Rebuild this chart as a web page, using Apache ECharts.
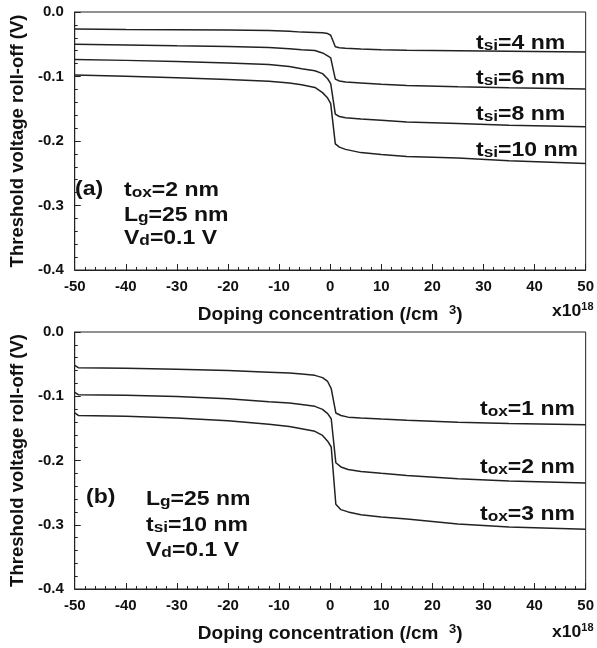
<!DOCTYPE html>
<html>
<head>
<meta charset="utf-8">
<script src="https://cdn.jsdelivr.net/npm/echarts@6/dist/echarts.min.js"></script>
<style>
  html, body { margin: 0; padding: 0; background: #fff; }
  #chart { width: 597px; height: 648px; }
</style>
</head>
<body>
<div id="chart"></div>
<script>
// panel (a): Vth roll-off vs doping for different silicon thickness
var dopingA = [-50, -40, -30, -20, -12, -8, -5.6, -3, -1.5, -0.5, 0.1, 1.0, 1.8, 3, 6, 10, 15, 25, 35, 50]
var tsi4 = [-0.0264, -0.027, -0.0275, -0.028, -0.0288, -0.030, -0.0312, -0.0316, -0.032, -0.0335, -0.036, -0.0538, -0.0555, -0.0563, -0.0575, -0.0585, -0.0592, -0.060, -0.061, -0.062]
var tsi6 = [-0.050, -0.051, -0.0523, -0.0535, -0.055, -0.0568, -0.0585, -0.0598, -0.0635, -0.068, -0.071, -0.104, -0.107, -0.1085, -0.110, -0.112, -0.114, -0.116, -0.1175, -0.1195]
var tsi8 = [-0.0737, -0.075, -0.0766, -0.079, -0.0815, -0.0845, -0.088, -0.091, -0.0955, -0.1035, -0.111, -0.1583, -0.162, -0.164, -0.166, -0.168, -0.1705, -0.173, -0.1755, -0.178]
var tsi10 = [-0.0978, -0.0995, -0.102, -0.1045, -0.1075, -0.110, -0.1128, -0.117, -0.125, -0.1335, -0.142, -0.2044, -0.2095, -0.213, -0.218, -0.221, -0.224, -0.2265, -0.2305, -0.235]

// panel (b): different oxide thickness
var dopingB = [-50, -49.3, -40, -30, -20, -12, -8, -5.6, -3, -1.5, -0.5, 0.2, 1.1, 2.1, 3.5, 6, 10, 15, 25, 35, 50]
var tox1 = [-0.052, -0.0555, -0.0565, -0.058, -0.060, -0.0625, -0.064, -0.0654, -0.0675, -0.071, -0.077, -0.088, -0.126, -0.130, -0.1325, -0.1338, -0.1355, -0.1375, -0.1405, -0.1425, -0.1442]
var tox2 = [-0.094, -0.0976, -0.0985, -0.1002, -0.104, -0.1085, -0.1105, -0.113, -0.1157, -0.1205, -0.127, -0.135, -0.2035, -0.210, -0.214, -0.217, -0.220, -0.2235, -0.2285, -0.232, -0.235]
var tox3 = [-0.126, -0.1298, -0.131, -0.1338, -0.138, -0.1435, -0.147, -0.1505, -0.1546, -0.161, -0.170, -0.179, -0.268, -0.2765, -0.280, -0.2843, -0.288, -0.291, -0.299, -0.3035, -0.307]

var xTicks = [-50, -40, -30, -20, -10, 0, 10, 20, 30, 40, 50]
var yTicks = [-0.4, -0.3, -0.2, -0.1, 0.0]

var FONT = 'Arial, "Liberation Sans", sans-serif'
var INK = '#111'

function pairs(xs, ys) {
  return xs.map(function(x, i) { return [x, ys[i]] })
}

function line(idx, xs, ys) {
  return {
    type: 'line',
    xAxisIndex: idx,
    yAxisIndex: idx,
    data: pairs(xs, ys),
    showSymbol: false,
    smooth: false,
    lineStyle: { color: '#222', width: 1.5 },
    animation: false
  }
}

function xAxis(idx) {
  return {
    type: 'value',
    gridIndex: idx,
    min: xTicks[0],
    max: xTicks[xTicks.length - 1],
    interval: 10,
    name: '{t|Doping concentration (/cm  }{s|3}{t|)}',
    nameLocation: 'middle',
    nameGap: 34,
    nameTextStyle: {
      rich: {
        t: { fontFamily: FONT, fontWeight: 'bold', fontSize: 19, color: INK, verticalAlign: 'bottom', lineHeight: 20 },
        s: { fontFamily: FONT, fontWeight: 'bold', fontSize: 13, color: INK, verticalAlign: 'top', lineHeight: 20 }
      }
    },
    axisLine: { onZero: false, lineStyle: { color: '#222', width: 1 } },
    axisTick: { inside: true, length: 6, lineStyle: { color: '#222' } },
    minorTick: { show: true, splitNumber: 5, length: 3, lineStyle: { color: '#222' } },
    splitLine: { show: false },
    axisLabel: { fontFamily: FONT, fontWeight: 'bold', fontSize: 15, color: INK, margin: 9 }
  }
}

function yAxis(idx) {
  return {
    type: 'value',
    gridIndex: idx,
    min: yTicks[0],
    max: yTicks[yTicks.length - 1],
    interval: 0.1,
    name: 'Threshold voltage roll-off (V)',
    nameLocation: 'middle',
    nameGap: 46,
    nameTextStyle: { fontFamily: FONT, fontWeight: 'bold', fontSize: 18.5, color: INK },
    axisLine: { show: true, onZero: false, lineStyle: { color: '#222', width: 1 } },
    axisTick: { show: true, inside: true, length: 6, lineStyle: { color: '#222' } },
    minorTick: { show: true, splitNumber: 5, length: 3, lineStyle: { color: '#222' } },
    splitLine: { show: false },
    axisLabel: {
      fontFamily: FONT, fontWeight: 'bold', fontSize: 15, color: INK, margin: 11,
      formatter: function(v) { return v.toFixed(1) }
    }
  }
}

// text with a small subscript, e.g. t + si + =4 nm (glyphs are a bit wide in the original)
function label(x, y, main, small, rest) {
  return {
    type: 'text',
    x: x,
    y: y,
    scaleX: 1.15,
    style: {
      text: '{m|' + main + '}{s|' + small + '}{m|' + rest + '}',
      verticalAlign: 'middle',
      align: 'left',
      rich: {
        m: { fontFamily: FONT, fontWeight: 'bold', fontSize: 20, fill: INK, verticalAlign: 'bottom', lineHeight: 22 },
        s: { fontFamily: FONT, fontWeight: 'bold', fontSize: 15, fill: INK, verticalAlign: 'bottom', lineHeight: 22 }
      }
    }
  }
}

function plain(x, y, txt) {
  return {
    type: 'text', x: x, y: y, scaleX: 1.15,
    style: { text: txt, font: 'bold 20px ' + FONT, fill: INK, verticalAlign: 'middle' }
  }
}

function exponent(x, y) {
  return {
    type: 'text', x: x, y: y, scaleX: 1.1,
    style: {
      text: '{m|x10}{s|18}',
      verticalAlign: 'middle',
      rich: {
        m: { fontFamily: FONT, fontWeight: 'bold', fontSize: 16, fill: INK, verticalAlign: 'bottom', lineHeight: 18 },
        s: { fontFamily: FONT, fontWeight: 'bold', fontSize: 10, fill: INK, verticalAlign: 'top', lineHeight: 18 }
      }
    }
  }
}

var chart = echarts.init(document.getElementById('chart'), null, { renderer: 'canvas' })
chart.setOption({
  backgroundColor: '#fff',
  animation: false,
  grid: [
    { left: 71, top: 12, width: 516, height: 258, show: true, borderColor: '#222', borderWidth: 1 },
    { left: 71, top: 332, width: 516, height: 257, show: true, borderColor: '#222', borderWidth: 1 }
  ],
  xAxis: [xAxis(0), xAxis(1)],
  yAxis: [yAxis(0), yAxis(1)],
  series: [
    line(0, dopingA, tsi4),
    line(0, dopingA, tsi6),
    line(0, dopingA, tsi8),
    line(0, dopingA, tsi10),
    line(1, dopingB, tox1),
    line(1, dopingB, tox2),
    line(1, dopingB, tox3)
  ],
  graphic: [
    label(476, 42, 't', 'si', '=4 nm'),
    label(476, 77, 't', 'si', '=6 nm'),
    label(476, 113, 't', 'si', '=8 nm'),
    label(476, 149, 't', 'si', '=10 nm'),
    plain(75, 189, '(a)'),
    label(124, 189, 't', 'ox', '=2 nm'),
    label(124, 214, 'L', 'g', '=25 nm'),
    label(124, 237, 'V', 'd', '=0.1 V'),
    exponent(552, 311),

    label(480, 408, 't', 'ox', '=1 nm'),
    label(480, 466, 't', 'ox', '=2 nm'),
    label(480, 513, 't', 'ox', '=3 nm'),
    plain(86, 497, '(b)'),
    label(146, 498, 'L', 'g', '=25 nm'),
    label(146, 524, 't', 'si', '=10 nm'),
    label(146, 549, 'V', 'd', '=0.1 V'),
    exponent(552, 632)
  ]
})
</script>
</body>
</html>
